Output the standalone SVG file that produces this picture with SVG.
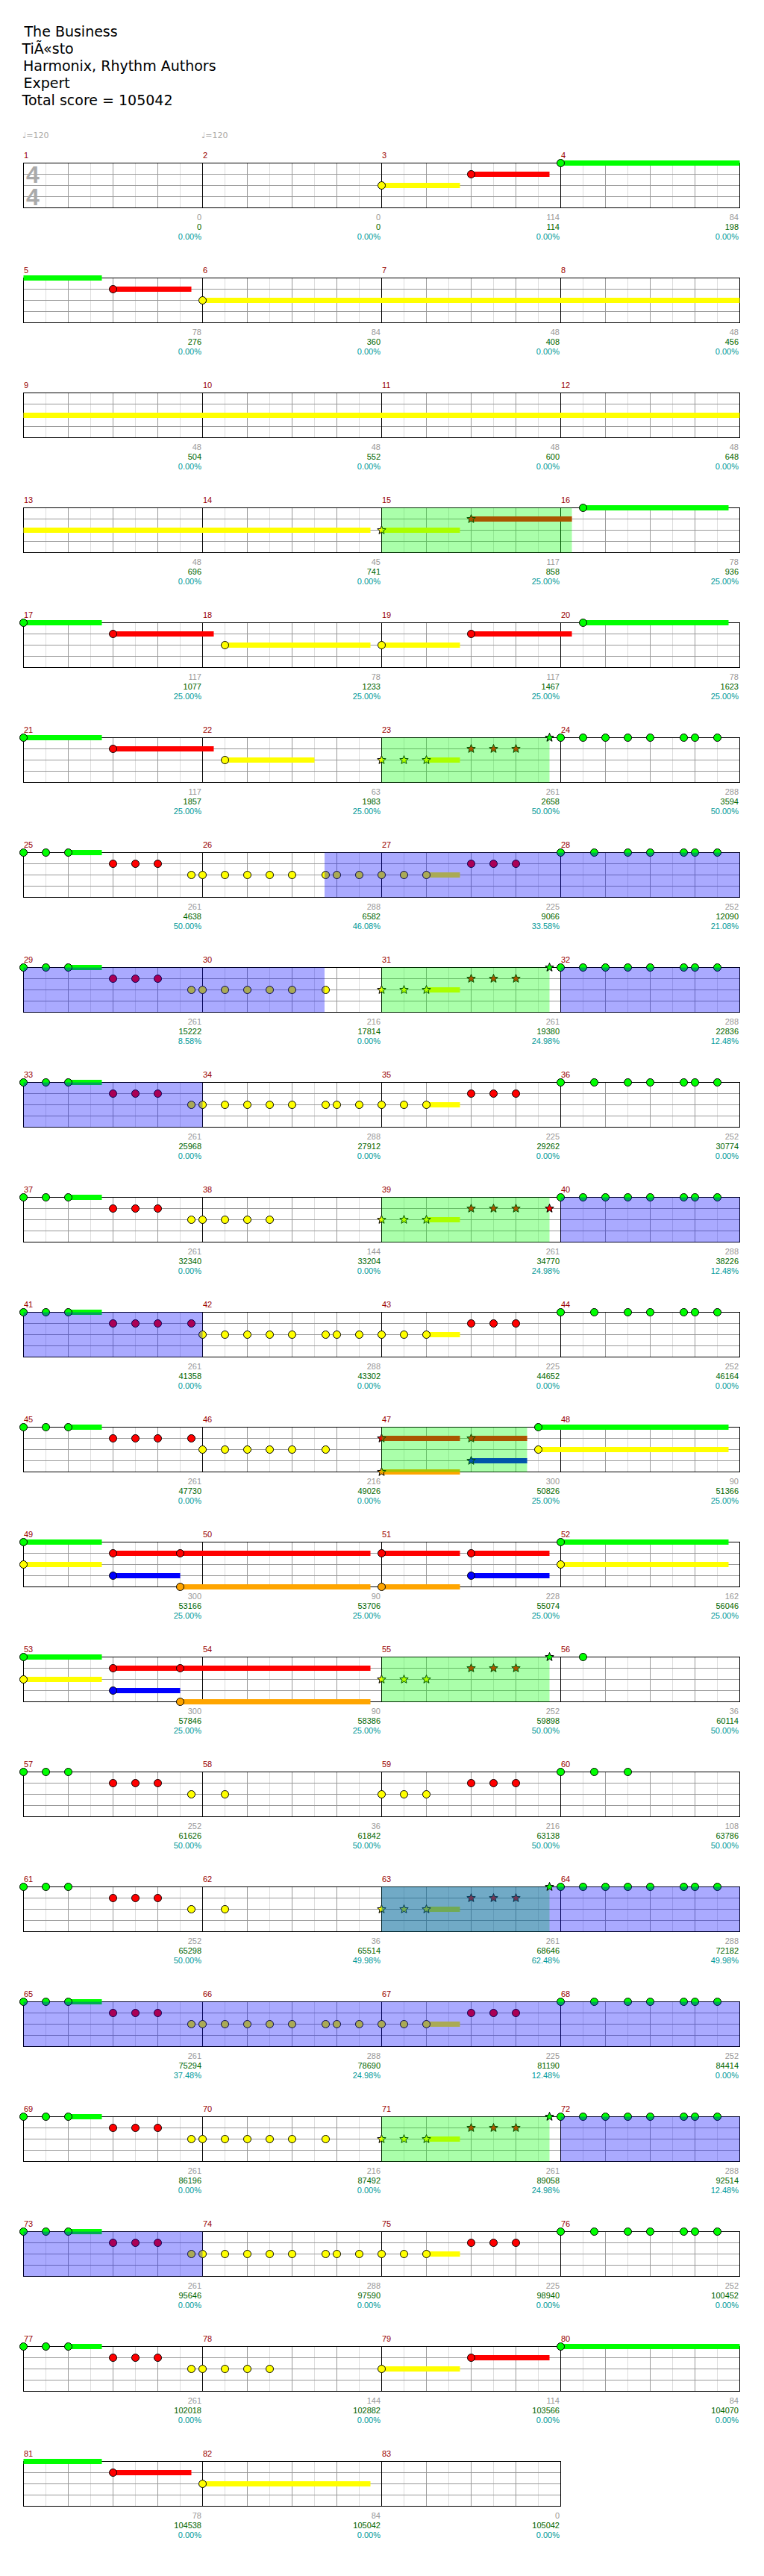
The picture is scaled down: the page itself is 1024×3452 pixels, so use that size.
<svg xmlns="http://www.w3.org/2000/svg" xmlns:xlink="http://www.w3.org/1999/xlink" width="1024" height="3452" viewBox="0 0 1024 3452">
<style>
.hd{font-family:"DejaVu Sans",sans-serif;font-size:19px;fill:#000}
.tp{font-family:"DejaVu Sans",sans-serif;font-size:11px;fill:#aaa}
.ts{font-family:"Liberation Sans",sans-serif;font-size:32px;font-weight:bold;fill:#aaa}
.mn{font-family:"Liberation Sans",sans-serif;font-size:11px;fill:#990000}
.s1,.s2,.s3{font-family:"Liberation Sans",sans-serif;font-size:11px;text-anchor:end}
.s1{fill:#999}.s2{fill:#006600}.s3{fill:#009999}
.lt{stroke:#ddd;stroke-width:1;fill:none}
.bt{stroke:#999;stroke-width:1;fill:none}
.ms{stroke:#000;stroke-width:1;fill:none}
.bar{stroke:none}
circle,.stu{stroke:#000;stroke-width:1}
.g{fill:#00ff00}.r{fill:#ff0000}.y{fill:#ffff00}.b{fill:#0000ff}.o{fill:#ffa500}
.sp{fill:#00ff00;opacity:.333}
.od{fill:#0000ff;opacity:.333}
</style>
<defs>
<g id="grid4">
<path class="lt" d="M61.5,.5V60.5M121.5,.5V60.5M181.5,.5V60.5M241.5,.5V60.5M301.5,.5V60.5M361.5,.5V60.5M421.5,.5V60.5M481.5,.5V60.5M541.5,.5V60.5M601.5,.5V60.5M661.5,.5V60.5M721.5,.5V60.5M781.5,.5V60.5M841.5,.5V60.5M901.5,.5V60.5M961.5,.5V60.5"/>
<path class="bt" d="M91.5,.5V60.5M151.5,.5V60.5M211.5,.5V60.5M331.5,.5V60.5M391.5,.5V60.5M451.5,.5V60.5M571.5,.5V60.5M631.5,.5V60.5M691.5,.5V60.5M811.5,.5V60.5M871.5,.5V60.5M931.5,.5V60.5M31.5,15.5H991.5M31.5,30.5H991.5M31.5,45.5H991.5"/>
<path class="ms" d="M271.5,.5V60.5M511.5,.5V60.5M751.5,.5V60.5"/>
<rect class="ms" x="31.5" y=".5" width="960" height="60"/>
</g>
<g id="grid3">
<path class="lt" d="M61.5,.5V60.5M121.5,.5V60.5M181.5,.5V60.5M241.5,.5V60.5M301.5,.5V60.5M361.5,.5V60.5M421.5,.5V60.5M481.5,.5V60.5M541.5,.5V60.5M601.5,.5V60.5M661.5,.5V60.5M721.5,.5V60.5"/>
<path class="bt" d="M91.5,.5V60.5M151.5,.5V60.5M211.5,.5V60.5M331.5,.5V60.5M391.5,.5V60.5M451.5,.5V60.5M571.5,.5V60.5M631.5,.5V60.5M691.5,.5V60.5M31.5,15.5H751.5M31.5,30.5H751.5M31.5,45.5H751.5"/>
<path class="ms" d="M271.5,.5V60.5M511.5,.5V60.5"/>
<rect class="ms" x="31.5" y=".5" width="720" height="60"/>
</g>
<path id="star" class="stu" d="M0,-6L1.53,-2.1L5.71,-1.85L2.47,.8L3.53,4.85L0,2.6L-3.53,4.85L-2.47,.8L-5.71,-1.85L-1.53,-2.1Z"/>
</defs>
<rect width="1024" height="3452" fill="#fff"/>

<g id="header">
<text class="hd" x="32.5" y="49">The Business</text>
<text class="hd" x="29.5" y="72">TiÃ«sto</text>
<text class="hd" x="31" y="95">Harmonix, Rhythm Authors</text>
<text class="hd" x="31.5" y="118">Expert</text>
<text class="hd" x="29.5" y="141">Total score = 105042</text>
<text class="tp" x="30" y="185">♩=120</text>
<text class="tp" x="270" y="185">♩=120</text>
</g>

<g id="row1" transform="translate(0,218)">
<use xlink:href="#grid4"/>
<text class="ts" x="35" y="27">4</text>
<text class="ts" x="35" y="57">4</text>
<text class="mn" x="32" y="-6">1</text><text class="mn" x="272" y="-6">2</text><text class="mn" x="512" y="-6">3</text><text class="mn" x="752" y="-6">4</text>
<rect class="bar y" x="511.5" y="27" width="105" height="7"/>
<rect class="bar r" x="631.5" y="12" width="105" height="7"/>
<rect class="bar g" x="751.5" y="-3" width="240" height="7"/>
<circle class="y" cx="511.5" cy="30.5" r="5"/><circle class="r" cx="631.5" cy="15.5" r="5"/><circle class="g" cx="751.5" cy=".5" r="5"/>
<text class="s1" x="270" y="77">0</text><text class="s2" x="270" y="90">0</text><text class="s3" x="270" y="103">0.00%</text>
<text class="s1" x="510" y="77">0</text><text class="s2" x="510" y="90">0</text><text class="s3" x="510" y="103">0.00%</text>
<text class="s1" x="750" y="77">114</text><text class="s2" x="750" y="90">114</text><text class="s3" x="750" y="103">0.00%</text>
<text class="s1" x="990" y="77">84</text><text class="s2" x="990" y="90">198</text><text class="s3" x="990" y="103">0.00%</text>
</g>

<g id="row2" transform="translate(0,372)">
<use xlink:href="#grid4"/>
<text class="mn" x="32" y="-6">5</text><text class="mn" x="272" y="-6">6</text><text class="mn" x="512" y="-6">7</text><text class="mn" x="752" y="-6">8</text>
<rect class="bar g" x="31.5" y="-3" width="105" height="7"/>
<rect class="bar r" x="151.5" y="12" width="105" height="7"/>
<rect class="bar y" x="271.5" y="27" width="720" height="7"/>
<circle class="r" cx="151.5" cy="15.5" r="5"/><circle class="y" cx="271.5" cy="30.5" r="5"/>
<text class="s1" x="270" y="77">78</text><text class="s2" x="270" y="90">276</text><text class="s3" x="270" y="103">0.00%</text>
<text class="s1" x="510" y="77">84</text><text class="s2" x="510" y="90">360</text><text class="s3" x="510" y="103">0.00%</text>
<text class="s1" x="750" y="77">48</text><text class="s2" x="750" y="90">408</text><text class="s3" x="750" y="103">0.00%</text>
<text class="s1" x="990" y="77">48</text><text class="s2" x="990" y="90">456</text><text class="s3" x="990" y="103">0.00%</text>
</g>

<g id="row3" transform="translate(0,526)">
<use xlink:href="#grid4"/>
<text class="mn" x="32" y="-6">9</text><text class="mn" x="272" y="-6">10</text><text class="mn" x="512" y="-6">11</text><text class="mn" x="752" y="-6">12</text>
<rect class="bar y" x="31.5" y="27" width="960" height="7"/>
<text class="s1" x="270" y="77">48</text><text class="s2" x="270" y="90">504</text><text class="s3" x="270" y="103">0.00%</text>
<text class="s1" x="510" y="77">48</text><text class="s2" x="510" y="90">552</text><text class="s3" x="510" y="103">0.00%</text>
<text class="s1" x="750" y="77">48</text><text class="s2" x="750" y="90">600</text><text class="s3" x="750" y="103">0.00%</text>
<text class="s1" x="990" y="77">48</text><text class="s2" x="990" y="90">648</text><text class="s3" x="990" y="103">0.00%</text>
</g>

<g id="row4" transform="translate(0,680)">
<use xlink:href="#grid4"/>
<text class="mn" x="32" y="-6">13</text><text class="mn" x="272" y="-6">14</text><text class="mn" x="512" y="-6">15</text><text class="mn" x="752" y="-6">16</text>
<rect class="bar y" x="31.5" y="27" width="465" height="7"/>
<rect class="bar y" x="511.5" y="27" width="105" height="7"/>
<rect class="bar r" x="631.5" y="12" width="135" height="7"/>
<rect class="bar g" x="781.5" y="-3" width="195" height="7"/>
<use xlink:href="#star" class="y" x="511.5" y="30.5"/><use xlink:href="#star" class="r" x="631.5" y="15.5"/>
<circle class="g" cx="781.5" cy=".5" r="5"/>
<rect class="sp" x="511.5" y=".5" width="255" height="60"/>
<text class="s1" x="270" y="77">48</text><text class="s2" x="270" y="90">696</text><text class="s3" x="270" y="103">0.00%</text>
<text class="s1" x="510" y="77">45</text><text class="s2" x="510" y="90">741</text><text class="s3" x="510" y="103">0.00%</text>
<text class="s1" x="750" y="77">117</text><text class="s2" x="750" y="90">858</text><text class="s3" x="750" y="103">25.00%</text>
<text class="s1" x="990" y="77">78</text><text class="s2" x="990" y="90">936</text><text class="s3" x="990" y="103">25.00%</text>
</g>

<g id="row5" transform="translate(0,834)">
<use xlink:href="#grid4"/>
<text class="mn" x="32" y="-6">17</text><text class="mn" x="272" y="-6">18</text><text class="mn" x="512" y="-6">19</text><text class="mn" x="752" y="-6">20</text>
<rect class="bar g" x="31.5" y="-3" width="105" height="7"/>
<rect class="bar r" x="151.5" y="12" width="135" height="7"/>
<rect class="bar y" x="301.5" y="27" width="195" height="7"/>
<rect class="bar y" x="511.5" y="27" width="105" height="7"/>
<rect class="bar r" x="631.5" y="12" width="135" height="7"/>
<rect class="bar g" x="781.5" y="-3" width="195" height="7"/>
<circle class="g" cx="31.5" cy=".5" r="5"/><circle class="r" cx="151.5" cy="15.5" r="5"/><circle class="y" cx="301.5" cy="30.5" r="5"/><circle class="y" cx="511.5" cy="30.5" r="5"/><circle class="r" cx="631.5" cy="15.5" r="5"/><circle class="g" cx="781.5" cy=".5" r="5"/>
<text class="s1" x="270" y="77">117</text><text class="s2" x="270" y="90">1077</text><text class="s3" x="270" y="103">25.00%</text>
<text class="s1" x="510" y="77">78</text><text class="s2" x="510" y="90">1233</text><text class="s3" x="510" y="103">25.00%</text>
<text class="s1" x="750" y="77">117</text><text class="s2" x="750" y="90">1467</text><text class="s3" x="750" y="103">25.00%</text>
<text class="s1" x="990" y="77">78</text><text class="s2" x="990" y="90">1623</text><text class="s3" x="990" y="103">25.00%</text>
</g>

<g id="row6" transform="translate(0,988)">
<use xlink:href="#grid4"/>
<text class="mn" x="32" y="-6">21</text><text class="mn" x="272" y="-6">22</text><text class="mn" x="512" y="-6">23</text><text class="mn" x="752" y="-6">24</text>
<rect class="bar g" x="31.5" y="-3" width="105" height="7"/>
<rect class="bar r" x="151.5" y="12" width="135" height="7"/>
<rect class="bar y" x="301.5" y="27" width="120" height="7"/>
<rect class="bar y" x="571.5" y="27" width="45" height="7"/>
<circle class="g" cx="31.5" cy=".5" r="5"/><circle class="r" cx="151.5" cy="15.5" r="5"/><circle class="y" cx="301.5" cy="30.5" r="5"/>
<use xlink:href="#star" class="y" x="511.5" y="30.5"/><use xlink:href="#star" class="y" x="541.5" y="30.5"/><use xlink:href="#star" class="y" x="571.5" y="30.5"/>
<use xlink:href="#star" class="r" x="631.5" y="15.5"/><use xlink:href="#star" class="r" x="661.5" y="15.5"/><use xlink:href="#star" class="r" x="691.5" y="15.5"/>
<rect class="sp" x="511.5" y=".5" width="225" height="60"/>
<use xlink:href="#star" class="g" x="736.5" y=".5"/>
<circle class="g" cx="751.5" cy=".5" r="5"/><circle class="g" cx="781.5" cy=".5" r="5"/><circle class="g" cx="811.5" cy=".5" r="5"/><circle class="g" cx="841.5" cy=".5" r="5"/><circle class="g" cx="871.5" cy=".5" r="5"/><circle class="g" cx="916.5" cy=".5" r="5"/><circle class="g" cx="931.5" cy=".5" r="5"/><circle class="g" cx="961.5" cy=".5" r="5"/>
<text class="s1" x="270" y="77">117</text><text class="s2" x="270" y="90">1857</text><text class="s3" x="270" y="103">25.00%</text>
<text class="s1" x="510" y="77">63</text><text class="s2" x="510" y="90">1983</text><text class="s3" x="510" y="103">25.00%</text>
<text class="s1" x="750" y="77">261</text><text class="s2" x="750" y="90">2658</text><text class="s3" x="750" y="103">50.00%</text>
<text class="s1" x="990" y="77">288</text><text class="s2" x="990" y="90">3594</text><text class="s3" x="990" y="103">50.00%</text>
</g>

<g id="row7" transform="translate(0,1142)">
<use xlink:href="#grid4"/>
<text class="mn" x="32" y="-6">25</text><text class="mn" x="272" y="-6">26</text><text class="mn" x="512" y="-6">27</text><text class="mn" x="752" y="-6">28</text>
<rect class="bar g" x="91.5" y="-3" width="45" height="7"/>
<rect class="bar y" x="571.5" y="27" width="45" height="7"/>
<circle class="g" cx="31.5" cy=".5" r="5"/><circle class="g" cx="61.5" cy=".5" r="5"/><circle class="g" cx="91.5" cy=".5" r="5"/>
<circle class="r" cx="151.5" cy="15.5" r="5"/><circle class="r" cx="181.5" cy="15.5" r="5"/><circle class="r" cx="211.5" cy="15.5" r="5"/>
<circle class="y" cx="256.5" cy="30.5" r="5"/><circle class="y" cx="271.5" cy="30.5" r="5"/><circle class="y" cx="301.5" cy="30.5" r="5"/><circle class="y" cx="331.5" cy="30.5" r="5"/><circle class="y" cx="361.5" cy="30.5" r="5"/><circle class="y" cx="391.5" cy="30.5" r="5"/><circle class="y" cx="436.5" cy="30.5" r="5"/><circle class="y" cx="451.5" cy="30.5" r="5"/><circle class="y" cx="481.5" cy="30.5" r="5"/><circle class="y" cx="511.5" cy="30.5" r="5"/><circle class="y" cx="541.5" cy="30.5" r="5"/><circle class="y" cx="571.5" cy="30.5" r="5"/>
<circle class="r" cx="631.5" cy="15.5" r="5"/><circle class="r" cx="661.5" cy="15.5" r="5"/><circle class="r" cx="691.5" cy="15.5" r="5"/>
<circle class="g" cx="751.5" cy=".5" r="5"/><circle class="g" cx="796.5" cy=".5" r="5"/><circle class="g" cx="841.5" cy=".5" r="5"/><circle class="g" cx="871.5" cy=".5" r="5"/><circle class="g" cx="916.5" cy=".5" r="5"/><circle class="g" cx="931.5" cy=".5" r="5"/><circle class="g" cx="961.5" cy=".5" r="5"/>
<rect class="od" x="435" y=".5" width="556.5" height="60"/>
<text class="s1" x="270" y="77">261</text><text class="s2" x="270" y="90">4638</text><text class="s3" x="270" y="103">50.00%</text>
<text class="s1" x="510" y="77">288</text><text class="s2" x="510" y="90">6582</text><text class="s3" x="510" y="103">46.08%</text>
<text class="s1" x="750" y="77">225</text><text class="s2" x="750" y="90">9066</text><text class="s3" x="750" y="103">33.58%</text>
<text class="s1" x="990" y="77">252</text><text class="s2" x="990" y="90">12090</text><text class="s3" x="990" y="103">21.08%</text>
</g>

<g id="row8" transform="translate(0,1296)">
<use xlink:href="#grid4"/>
<text class="mn" x="32" y="-6">29</text><text class="mn" x="272" y="-6">30</text><text class="mn" x="512" y="-6">31</text><text class="mn" x="752" y="-6">32</text>
<rect class="bar g" x="91.5" y="-3" width="45" height="7"/>
<rect class="bar y" x="571.5" y="27" width="45" height="7"/>
<circle class="g" cx="31.5" cy=".5" r="5"/><circle class="g" cx="61.5" cy=".5" r="5"/><circle class="g" cx="91.5" cy=".5" r="5"/>
<circle class="r" cx="151.5" cy="15.5" r="5"/><circle class="r" cx="181.5" cy="15.5" r="5"/><circle class="r" cx="211.5" cy="15.5" r="5"/>
<circle class="y" cx="256.5" cy="30.5" r="5"/><circle class="y" cx="271.5" cy="30.5" r="5"/><circle class="y" cx="301.5" cy="30.5" r="5"/><circle class="y" cx="331.5" cy="30.5" r="5"/><circle class="y" cx="361.5" cy="30.5" r="5"/><circle class="y" cx="391.5" cy="30.5" r="5"/><circle class="y" cx="436.5" cy="30.5" r="5"/>
<use xlink:href="#star" class="y" x="511.5" y="30.5"/><use xlink:href="#star" class="y" x="541.5" y="30.5"/><use xlink:href="#star" class="y" x="571.5" y="30.5"/>
<use xlink:href="#star" class="r" x="631.5" y="15.5"/><use xlink:href="#star" class="r" x="661.5" y="15.5"/><use xlink:href="#star" class="r" x="691.5" y="15.5"/>
<circle class="g" cx="751.5" cy=".5" r="5"/><circle class="g" cx="781.5" cy=".5" r="5"/><circle class="g" cx="811.5" cy=".5" r="5"/><circle class="g" cx="841.5" cy=".5" r="5"/><circle class="g" cx="871.5" cy=".5" r="5"/><circle class="g" cx="916.5" cy=".5" r="5"/><circle class="g" cx="931.5" cy=".5" r="5"/><circle class="g" cx="961.5" cy=".5" r="5"/>
<rect class="od" x="31.5" y=".5" width="403.5" height="60"/>
<rect class="sp" x="511.5" y=".5" width="225" height="60"/>
<rect class="od" x="751.5" y=".5" width="240" height="60"/>
<use xlink:href="#star" class="g" x="736.5" y=".5"/>
<text class="s1" x="270" y="77">261</text><text class="s2" x="270" y="90">15222</text><text class="s3" x="270" y="103">8.58%</text>
<text class="s1" x="510" y="77">216</text><text class="s2" x="510" y="90">17814</text><text class="s3" x="510" y="103">0.00%</text>
<text class="s1" x="750" y="77">261</text><text class="s2" x="750" y="90">19380</text><text class="s3" x="750" y="103">24.98%</text>
<text class="s1" x="990" y="77">288</text><text class="s2" x="990" y="90">22836</text><text class="s3" x="990" y="103">12.48%</text>
</g>

<g id="row9" transform="translate(0,1450)">
<use xlink:href="#grid4"/>
<text class="mn" x="32" y="-6">33</text><text class="mn" x="272" y="-6">34</text><text class="mn" x="512" y="-6">35</text><text class="mn" x="752" y="-6">36</text>
<rect class="bar g" x="91.5" y="-3" width="45" height="7"/>
<rect class="bar y" x="571.5" y="27" width="45" height="7"/>
<circle class="g" cx="31.5" cy=".5" r="5"/><circle class="g" cx="61.5" cy=".5" r="5"/><circle class="g" cx="91.5" cy=".5" r="5"/>
<circle class="r" cx="151.5" cy="15.5" r="5"/><circle class="r" cx="181.5" cy="15.5" r="5"/><circle class="r" cx="211.5" cy="15.5" r="5"/>
<circle class="y" cx="256.5" cy="30.5" r="5"/><circle class="y" cx="271.5" cy="30.5" r="5"/><circle class="y" cx="301.5" cy="30.5" r="5"/><circle class="y" cx="331.5" cy="30.5" r="5"/><circle class="y" cx="361.5" cy="30.5" r="5"/><circle class="y" cx="391.5" cy="30.5" r="5"/><circle class="y" cx="436.5" cy="30.5" r="5"/><circle class="y" cx="451.5" cy="30.5" r="5"/><circle class="y" cx="481.5" cy="30.5" r="5"/><circle class="y" cx="511.5" cy="30.5" r="5"/><circle class="y" cx="541.5" cy="30.5" r="5"/><circle class="y" cx="571.5" cy="30.5" r="5"/>
<circle class="r" cx="631.5" cy="15.5" r="5"/><circle class="r" cx="661.5" cy="15.5" r="5"/><circle class="r" cx="691.5" cy="15.5" r="5"/>
<circle class="g" cx="751.5" cy=".5" r="5"/><circle class="g" cx="796.5" cy=".5" r="5"/><circle class="g" cx="841.5" cy=".5" r="5"/><circle class="g" cx="871.5" cy=".5" r="5"/><circle class="g" cx="916.5" cy=".5" r="5"/><circle class="g" cx="931.5" cy=".5" r="5"/><circle class="g" cx="961.5" cy=".5" r="5"/>
<rect class="od" x="31.5" y=".5" width="240" height="60"/>
<text class="s1" x="270" y="77">261</text><text class="s2" x="270" y="90">25968</text><text class="s3" x="270" y="103">0.00%</text>
<text class="s1" x="510" y="77">288</text><text class="s2" x="510" y="90">27912</text><text class="s3" x="510" y="103">0.00%</text>
<text class="s1" x="750" y="77">225</text><text class="s2" x="750" y="90">29262</text><text class="s3" x="750" y="103">0.00%</text>
<text class="s1" x="990" y="77">252</text><text class="s2" x="990" y="90">30774</text><text class="s3" x="990" y="103">0.00%</text>
</g>

<g id="row10" transform="translate(0,1604)">
<use xlink:href="#grid4"/>
<text class="mn" x="32" y="-6">37</text><text class="mn" x="272" y="-6">38</text><text class="mn" x="512" y="-6">39</text><text class="mn" x="752" y="-6">40</text>
<rect class="bar g" x="91.5" y="-3" width="45" height="7"/>
<rect class="bar y" x="571.5" y="27" width="45" height="7"/>
<circle class="g" cx="31.5" cy=".5" r="5"/><circle class="g" cx="61.5" cy=".5" r="5"/><circle class="g" cx="91.5" cy=".5" r="5"/>
<circle class="r" cx="151.5" cy="15.5" r="5"/><circle class="r" cx="181.5" cy="15.5" r="5"/><circle class="r" cx="211.5" cy="15.5" r="5"/>
<circle class="y" cx="256.5" cy="30.5" r="5"/><circle class="y" cx="271.5" cy="30.5" r="5"/><circle class="y" cx="301.5" cy="30.5" r="5"/><circle class="y" cx="331.5" cy="30.5" r="5"/><circle class="y" cx="361.5" cy="30.5" r="5"/>
<use xlink:href="#star" class="y" x="511.5" y="30.5"/><use xlink:href="#star" class="y" x="541.5" y="30.5"/><use xlink:href="#star" class="y" x="571.5" y="30.5"/>
<use xlink:href="#star" class="r" x="631.5" y="15.5"/><use xlink:href="#star" class="r" x="661.5" y="15.5"/><use xlink:href="#star" class="r" x="691.5" y="15.5"/>
<circle class="g" cx="751.5" cy=".5" r="5"/><circle class="g" cx="781.5" cy=".5" r="5"/><circle class="g" cx="811.5" cy=".5" r="5"/><circle class="g" cx="841.5" cy=".5" r="5"/><circle class="g" cx="871.5" cy=".5" r="5"/><circle class="g" cx="916.5" cy=".5" r="5"/><circle class="g" cx="931.5" cy=".5" r="5"/><circle class="g" cx="961.5" cy=".5" r="5"/>
<rect class="sp" x="511.5" y=".5" width="225" height="60"/>
<rect class="od" x="751.5" y=".5" width="240" height="60"/>
<use xlink:href="#star" class="r" x="736.5" y="15.5"/>
<text class="s1" x="270" y="77">261</text><text class="s2" x="270" y="90">32340</text><text class="s3" x="270" y="103">0.00%</text>
<text class="s1" x="510" y="77">144</text><text class="s2" x="510" y="90">33204</text><text class="s3" x="510" y="103">0.00%</text>
<text class="s1" x="750" y="77">261</text><text class="s2" x="750" y="90">34770</text><text class="s3" x="750" y="103">24.98%</text>
<text class="s1" x="990" y="77">288</text><text class="s2" x="990" y="90">38226</text><text class="s3" x="990" y="103">12.48%</text>
</g>

<g id="row11" transform="translate(0,1758)">
<use xlink:href="#grid4"/>
<text class="mn" x="32" y="-6">41</text><text class="mn" x="272" y="-6">42</text><text class="mn" x="512" y="-6">43</text><text class="mn" x="752" y="-6">44</text>
<rect class="bar g" x="91.5" y="-3" width="45" height="7"/>
<rect class="bar y" x="571.5" y="27" width="45" height="7"/>
<circle class="g" cx="31.5" cy=".5" r="5"/><circle class="g" cx="61.5" cy=".5" r="5"/><circle class="g" cx="91.5" cy=".5" r="5"/>
<circle class="r" cx="151.5" cy="15.5" r="5"/><circle class="r" cx="181.5" cy="15.5" r="5"/><circle class="r" cx="211.5" cy="15.5" r="5"/><circle class="r" cx="256.5" cy="15.5" r="5"/>
<circle class="y" cx="271.5" cy="30.5" r="5"/><circle class="y" cx="301.5" cy="30.5" r="5"/><circle class="y" cx="331.5" cy="30.5" r="5"/><circle class="y" cx="361.5" cy="30.5" r="5"/><circle class="y" cx="391.5" cy="30.5" r="5"/><circle class="y" cx="436.5" cy="30.5" r="5"/><circle class="y" cx="451.5" cy="30.5" r="5"/><circle class="y" cx="481.5" cy="30.5" r="5"/><circle class="y" cx="511.5" cy="30.5" r="5"/><circle class="y" cx="541.5" cy="30.5" r="5"/><circle class="y" cx="571.5" cy="30.5" r="5"/>
<circle class="r" cx="631.5" cy="15.5" r="5"/><circle class="r" cx="661.5" cy="15.5" r="5"/><circle class="r" cx="691.5" cy="15.5" r="5"/>
<circle class="g" cx="751.5" cy=".5" r="5"/><circle class="g" cx="796.5" cy=".5" r="5"/><circle class="g" cx="841.5" cy=".5" r="5"/><circle class="g" cx="871.5" cy=".5" r="5"/><circle class="g" cx="916.5" cy=".5" r="5"/><circle class="g" cx="931.5" cy=".5" r="5"/><circle class="g" cx="961.5" cy=".5" r="5"/>
<rect class="od" x="31.5" y=".5" width="240" height="60"/>
<text class="s1" x="270" y="77">261</text><text class="s2" x="270" y="90">41358</text><text class="s3" x="270" y="103">0.00%</text>
<text class="s1" x="510" y="77">288</text><text class="s2" x="510" y="90">43302</text><text class="s3" x="510" y="103">0.00%</text>
<text class="s1" x="750" y="77">225</text><text class="s2" x="750" y="90">44652</text><text class="s3" x="750" y="103">0.00%</text>
<text class="s1" x="990" y="77">252</text><text class="s2" x="990" y="90">46164</text><text class="s3" x="990" y="103">0.00%</text>
</g>

<g id="row12" transform="translate(0,1912)">
<use xlink:href="#grid4"/>
<text class="mn" x="32" y="-6">45</text><text class="mn" x="272" y="-6">46</text><text class="mn" x="512" y="-6">47</text><text class="mn" x="752" y="-6">48</text>
<rect class="bar g" x="91.5" y="-3" width="45" height="7"/>
<rect class="bar r" x="511.5" y="12" width="105" height="7"/>
<rect class="bar o" x="511.5" y="57" width="105" height="7"/>
<rect class="bar r" x="631.5" y="12" width="75" height="7"/>
<rect class="bar b" x="631.5" y="42" width="75" height="7"/>
<rect class="bar g" x="721.5" y="-3" width="255" height="7"/>
<rect class="bar y" x="721.5" y="27" width="255" height="7"/>
<circle class="g" cx="31.5" cy=".5" r="5"/><circle class="g" cx="61.5" cy=".5" r="5"/><circle class="g" cx="91.5" cy=".5" r="5"/>
<circle class="r" cx="151.5" cy="15.5" r="5"/><circle class="r" cx="181.5" cy="15.5" r="5"/><circle class="r" cx="211.5" cy="15.5" r="5"/><circle class="r" cx="256.5" cy="15.5" r="5"/>
<circle class="y" cx="271.5" cy="30.5" r="5"/><circle class="y" cx="301.5" cy="30.5" r="5"/><circle class="y" cx="331.5" cy="30.5" r="5"/><circle class="y" cx="361.5" cy="30.5" r="5"/><circle class="y" cx="391.5" cy="30.5" r="5"/><circle class="y" cx="436.5" cy="30.5" r="5"/>
<use xlink:href="#star" class="r" x="511.5" y="15.5"/><use xlink:href="#star" class="o" x="511.5" y="60.5"/>
<use xlink:href="#star" class="r" x="631.5" y="15.5"/><use xlink:href="#star" class="b" x="631.5" y="45.5"/>
<circle class="g" cx="721.5" cy=".5" r="5"/><circle class="y" cx="721.5" cy="30.5" r="5"/>
<rect class="sp" x="511.5" y=".5" width="195" height="60"/>
<text class="s1" x="270" y="77">261</text><text class="s2" x="270" y="90">47730</text><text class="s3" x="270" y="103">0.00%</text>
<text class="s1" x="510" y="77">216</text><text class="s2" x="510" y="90">49026</text><text class="s3" x="510" y="103">0.00%</text>
<text class="s1" x="750" y="77">300</text><text class="s2" x="750" y="90">50826</text><text class="s3" x="750" y="103">25.00%</text>
<text class="s1" x="990" y="77">90</text><text class="s2" x="990" y="90">51366</text><text class="s3" x="990" y="103">25.00%</text>
</g>

<g id="row13" transform="translate(0,2066)">
<use xlink:href="#grid4"/>
<text class="mn" x="32" y="-6">49</text><text class="mn" x="272" y="-6">50</text><text class="mn" x="512" y="-6">51</text><text class="mn" x="752" y="-6">52</text>
<rect class="bar g" x="31.5" y="-3" width="105" height="7"/>
<rect class="bar y" x="31.5" y="27" width="105" height="7"/>
<rect class="bar r" x="151.5" y="12" width="90" height="7"/>
<rect class="bar b" x="151.5" y="42" width="90" height="7"/>
<rect class="bar r" x="241.5" y="12" width="255" height="7"/>
<rect class="bar o" x="241.5" y="57" width="255" height="7"/>
<rect class="bar r" x="511.5" y="12" width="105" height="7"/>
<rect class="bar o" x="511.5" y="57" width="105" height="7"/>
<rect class="bar r" x="631.5" y="12" width="105" height="7"/>
<rect class="bar b" x="631.5" y="42" width="105" height="7"/>
<rect class="bar g" x="751.5" y="-3" width="225" height="7"/>
<rect class="bar y" x="751.5" y="27" width="225" height="7"/>
<circle class="g" cx="31.5" cy=".5" r="5"/><circle class="y" cx="31.5" cy="30.5" r="5"/>
<circle class="r" cx="151.5" cy="15.5" r="5"/><circle class="b" cx="151.5" cy="45.5" r="5"/>
<circle class="r" cx="241.5" cy="15.5" r="5"/><circle class="o" cx="241.5" cy="60.5" r="5"/>
<circle class="r" cx="511.5" cy="15.5" r="5"/><circle class="o" cx="511.5" cy="60.5" r="5"/>
<circle class="r" cx="631.5" cy="15.5" r="5"/><circle class="b" cx="631.5" cy="45.5" r="5"/>
<circle class="g" cx="751.5" cy=".5" r="5"/><circle class="y" cx="751.5" cy="30.5" r="5"/>
<text class="s1" x="270" y="77">300</text><text class="s2" x="270" y="90">53166</text><text class="s3" x="270" y="103">25.00%</text>
<text class="s1" x="510" y="77">90</text><text class="s2" x="510" y="90">53706</text><text class="s3" x="510" y="103">25.00%</text>
<text class="s1" x="750" y="77">228</text><text class="s2" x="750" y="90">55074</text><text class="s3" x="750" y="103">25.00%</text>
<text class="s1" x="990" y="77">162</text><text class="s2" x="990" y="90">56046</text><text class="s3" x="990" y="103">25.00%</text>
</g>

<g id="row14" transform="translate(0,2220)">
<use xlink:href="#grid4"/>
<text class="mn" x="32" y="-6">53</text><text class="mn" x="272" y="-6">54</text><text class="mn" x="512" y="-6">55</text><text class="mn" x="752" y="-6">56</text>
<rect class="bar g" x="31.5" y="-3" width="105" height="7"/>
<rect class="bar y" x="31.5" y="27" width="105" height="7"/>
<rect class="bar r" x="151.5" y="12" width="90" height="7"/>
<rect class="bar b" x="151.5" y="42" width="90" height="7"/>
<rect class="bar r" x="241.5" y="12" width="255" height="7"/>
<rect class="bar o" x="241.5" y="57" width="255" height="7"/>
<circle class="g" cx="31.5" cy=".5" r="5"/><circle class="y" cx="31.5" cy="30.5" r="5"/>
<circle class="r" cx="151.5" cy="15.5" r="5"/><circle class="b" cx="151.5" cy="45.5" r="5"/>
<circle class="r" cx="241.5" cy="15.5" r="5"/><circle class="o" cx="241.5" cy="60.5" r="5"/>
<use xlink:href="#star" class="y" x="511.5" y="30.5"/><use xlink:href="#star" class="y" x="541.5" y="30.5"/><use xlink:href="#star" class="y" x="571.5" y="30.5"/>
<use xlink:href="#star" class="r" x="631.5" y="15.5"/><use xlink:href="#star" class="r" x="661.5" y="15.5"/><use xlink:href="#star" class="r" x="691.5" y="15.5"/>
<rect class="sp" x="511.5" y=".5" width="225" height="60"/>
<use xlink:href="#star" class="g" x="736.5" y=".5"/>
<circle class="g" cx="781.5" cy=".5" r="5"/>
<text class="s1" x="270" y="77">300</text><text class="s2" x="270" y="90">57846</text><text class="s3" x="270" y="103">25.00%</text>
<text class="s1" x="510" y="77">90</text><text class="s2" x="510" y="90">58386</text><text class="s3" x="510" y="103">25.00%</text>
<text class="s1" x="750" y="77">252</text><text class="s2" x="750" y="90">59898</text><text class="s3" x="750" y="103">50.00%</text>
<text class="s1" x="990" y="77">36</text><text class="s2" x="990" y="90">60114</text><text class="s3" x="990" y="103">50.00%</text>
</g>

<g id="row15" transform="translate(0,2374)">
<use xlink:href="#grid4"/>
<text class="mn" x="32" y="-6">57</text><text class="mn" x="272" y="-6">58</text><text class="mn" x="512" y="-6">59</text><text class="mn" x="752" y="-6">60</text>
<circle class="g" cx="31.5" cy=".5" r="5"/><circle class="g" cx="61.5" cy=".5" r="5"/><circle class="g" cx="91.5" cy=".5" r="5"/>
<circle class="r" cx="151.5" cy="15.5" r="5"/><circle class="r" cx="181.5" cy="15.5" r="5"/><circle class="r" cx="211.5" cy="15.5" r="5"/>
<circle class="y" cx="256.5" cy="30.5" r="5"/><circle class="y" cx="301.5" cy="30.5" r="5"/>
<circle class="y" cx="511.5" cy="30.5" r="5"/><circle class="y" cx="541.5" cy="30.5" r="5"/><circle class="y" cx="571.5" cy="30.5" r="5"/>
<circle class="r" cx="631.5" cy="15.5" r="5"/><circle class="r" cx="661.5" cy="15.5" r="5"/><circle class="r" cx="691.5" cy="15.5" r="5"/>
<circle class="g" cx="751.5" cy=".5" r="5"/><circle class="g" cx="796.5" cy=".5" r="5"/><circle class="g" cx="841.5" cy=".5" r="5"/>
<text class="s1" x="270" y="77">252</text><text class="s2" x="270" y="90">61626</text><text class="s3" x="270" y="103">50.00%</text>
<text class="s1" x="510" y="77">36</text><text class="s2" x="510" y="90">61842</text><text class="s3" x="510" y="103">50.00%</text>
<text class="s1" x="750" y="77">216</text><text class="s2" x="750" y="90">63138</text><text class="s3" x="750" y="103">50.00%</text>
<text class="s1" x="990" y="77">108</text><text class="s2" x="990" y="90">63786</text><text class="s3" x="990" y="103">50.00%</text>
</g>

<g id="row16" transform="translate(0,2528)">
<use xlink:href="#grid4"/>
<text class="mn" x="32" y="-6">61</text><text class="mn" x="272" y="-6">62</text><text class="mn" x="512" y="-6">63</text><text class="mn" x="752" y="-6">64</text>
<rect class="bar y" x="571.5" y="27" width="45" height="7"/>
<circle class="g" cx="31.5" cy=".5" r="5"/><circle class="g" cx="61.5" cy=".5" r="5"/><circle class="g" cx="91.5" cy=".5" r="5"/>
<circle class="r" cx="151.5" cy="15.5" r="5"/><circle class="r" cx="181.5" cy="15.5" r="5"/><circle class="r" cx="211.5" cy="15.5" r="5"/>
<circle class="y" cx="256.5" cy="30.5" r="5"/><circle class="y" cx="301.5" cy="30.5" r="5"/>
<use xlink:href="#star" class="y" x="511.5" y="30.5"/><use xlink:href="#star" class="y" x="541.5" y="30.5"/><use xlink:href="#star" class="y" x="571.5" y="30.5"/>
<use xlink:href="#star" class="r" x="631.5" y="15.5"/><use xlink:href="#star" class="r" x="661.5" y="15.5"/><use xlink:href="#star" class="r" x="691.5" y="15.5"/>
<circle class="g" cx="751.5" cy=".5" r="5"/><circle class="g" cx="781.5" cy=".5" r="5"/><circle class="g" cx="811.5" cy=".5" r="5"/><circle class="g" cx="841.5" cy=".5" r="5"/><circle class="g" cx="871.5" cy=".5" r="5"/><circle class="g" cx="916.5" cy=".5" r="5"/><circle class="g" cx="931.5" cy=".5" r="5"/><circle class="g" cx="961.5" cy=".5" r="5"/>
<rect class="sp" x="511.5" y=".5" width="225" height="60"/>
<rect class="od" x="511.5" y=".5" width="480" height="60"/>
<use xlink:href="#star" class="g" x="736.5" y=".5"/>
<text class="s1" x="270" y="77">252</text><text class="s2" x="270" y="90">65298</text><text class="s3" x="270" y="103">50.00%</text>
<text class="s1" x="510" y="77">36</text><text class="s2" x="510" y="90">65514</text><text class="s3" x="510" y="103">49.98%</text>
<text class="s1" x="750" y="77">261</text><text class="s2" x="750" y="90">68646</text><text class="s3" x="750" y="103">62.48%</text>
<text class="s1" x="990" y="77">288</text><text class="s2" x="990" y="90">72182</text><text class="s3" x="990" y="103">49.98%</text>
</g>

<g id="row17" transform="translate(0,2682)">
<use xlink:href="#grid4"/>
<text class="mn" x="32" y="-6">65</text><text class="mn" x="272" y="-6">66</text><text class="mn" x="512" y="-6">67</text><text class="mn" x="752" y="-6">68</text>
<rect class="bar g" x="91.5" y="-3" width="45" height="7"/>
<rect class="bar y" x="571.5" y="27" width="45" height="7"/>
<circle class="g" cx="31.5" cy=".5" r="5"/><circle class="g" cx="61.5" cy=".5" r="5"/><circle class="g" cx="91.5" cy=".5" r="5"/>
<circle class="r" cx="151.5" cy="15.5" r="5"/><circle class="r" cx="181.5" cy="15.5" r="5"/><circle class="r" cx="211.5" cy="15.5" r="5"/>
<circle class="y" cx="256.5" cy="30.5" r="5"/><circle class="y" cx="271.5" cy="30.5" r="5"/><circle class="y" cx="301.5" cy="30.5" r="5"/><circle class="y" cx="331.5" cy="30.5" r="5"/><circle class="y" cx="361.5" cy="30.5" r="5"/><circle class="y" cx="391.5" cy="30.5" r="5"/><circle class="y" cx="436.5" cy="30.5" r="5"/><circle class="y" cx="451.5" cy="30.5" r="5"/><circle class="y" cx="481.5" cy="30.5" r="5"/><circle class="y" cx="511.5" cy="30.5" r="5"/><circle class="y" cx="541.5" cy="30.5" r="5"/><circle class="y" cx="571.5" cy="30.5" r="5"/>
<circle class="r" cx="631.5" cy="15.5" r="5"/><circle class="r" cx="661.5" cy="15.5" r="5"/><circle class="r" cx="691.5" cy="15.5" r="5"/>
<circle class="g" cx="751.5" cy=".5" r="5"/><circle class="g" cx="796.5" cy=".5" r="5"/><circle class="g" cx="841.5" cy=".5" r="5"/><circle class="g" cx="871.5" cy=".5" r="5"/><circle class="g" cx="916.5" cy=".5" r="5"/><circle class="g" cx="931.5" cy=".5" r="5"/><circle class="g" cx="961.5" cy=".5" r="5"/>
<rect class="od" x="31.5" y=".5" width="960" height="60"/>
<text class="s1" x="270" y="77">261</text><text class="s2" x="270" y="90">75294</text><text class="s3" x="270" y="103">37.48%</text>
<text class="s1" x="510" y="77">288</text><text class="s2" x="510" y="90">78690</text><text class="s3" x="510" y="103">24.98%</text>
<text class="s1" x="750" y="77">225</text><text class="s2" x="750" y="90">81190</text><text class="s3" x="750" y="103">12.48%</text>
<text class="s1" x="990" y="77">252</text><text class="s2" x="990" y="90">84414</text><text class="s3" x="990" y="103">0.00%</text>
</g>

<g id="row18" transform="translate(0,2836)">
<use xlink:href="#grid4"/>
<text class="mn" x="32" y="-6">69</text><text class="mn" x="272" y="-6">70</text><text class="mn" x="512" y="-6">71</text><text class="mn" x="752" y="-6">72</text>
<rect class="bar g" x="91.5" y="-3" width="45" height="7"/>
<rect class="bar y" x="571.5" y="27" width="45" height="7"/>
<circle class="g" cx="31.5" cy=".5" r="5"/><circle class="g" cx="61.5" cy=".5" r="5"/><circle class="g" cx="91.5" cy=".5" r="5"/>
<circle class="r" cx="151.5" cy="15.5" r="5"/><circle class="r" cx="181.5" cy="15.5" r="5"/><circle class="r" cx="211.5" cy="15.5" r="5"/>
<circle class="y" cx="256.5" cy="30.5" r="5"/><circle class="y" cx="271.5" cy="30.5" r="5"/><circle class="y" cx="301.5" cy="30.5" r="5"/><circle class="y" cx="331.5" cy="30.5" r="5"/><circle class="y" cx="361.5" cy="30.5" r="5"/><circle class="y" cx="391.5" cy="30.5" r="5"/><circle class="y" cx="436.5" cy="30.5" r="5"/>
<use xlink:href="#star" class="y" x="511.5" y="30.5"/><use xlink:href="#star" class="y" x="541.5" y="30.5"/><use xlink:href="#star" class="y" x="571.5" y="30.5"/>
<use xlink:href="#star" class="r" x="631.5" y="15.5"/><use xlink:href="#star" class="r" x="661.5" y="15.5"/><use xlink:href="#star" class="r" x="691.5" y="15.5"/>
<circle class="g" cx="751.5" cy=".5" r="5"/><circle class="g" cx="781.5" cy=".5" r="5"/><circle class="g" cx="811.5" cy=".5" r="5"/><circle class="g" cx="841.5" cy=".5" r="5"/><circle class="g" cx="871.5" cy=".5" r="5"/><circle class="g" cx="916.5" cy=".5" r="5"/><circle class="g" cx="931.5" cy=".5" r="5"/><circle class="g" cx="961.5" cy=".5" r="5"/>
<rect class="sp" x="511.5" y=".5" width="225" height="60"/>
<rect class="od" x="751.5" y=".5" width="240" height="60"/>
<use xlink:href="#star" class="g" x="736.5" y=".5"/>
<text class="s1" x="270" y="77">261</text><text class="s2" x="270" y="90">86196</text><text class="s3" x="270" y="103">0.00%</text>
<text class="s1" x="510" y="77">216</text><text class="s2" x="510" y="90">87492</text><text class="s3" x="510" y="103">0.00%</text>
<text class="s1" x="750" y="77">261</text><text class="s2" x="750" y="90">89058</text><text class="s3" x="750" y="103">24.98%</text>
<text class="s1" x="990" y="77">288</text><text class="s2" x="990" y="90">92514</text><text class="s3" x="990" y="103">12.48%</text>
</g>

<g id="row19" transform="translate(0,2990)">
<use xlink:href="#grid4"/>
<text class="mn" x="32" y="-6">73</text><text class="mn" x="272" y="-6">74</text><text class="mn" x="512" y="-6">75</text><text class="mn" x="752" y="-6">76</text>
<rect class="bar g" x="91.5" y="-3" width="45" height="7"/>
<rect class="bar y" x="571.5" y="27" width="45" height="7"/>
<circle class="g" cx="31.5" cy=".5" r="5"/><circle class="g" cx="61.5" cy=".5" r="5"/><circle class="g" cx="91.5" cy=".5" r="5"/>
<circle class="r" cx="151.5" cy="15.5" r="5"/><circle class="r" cx="181.5" cy="15.5" r="5"/><circle class="r" cx="211.5" cy="15.5" r="5"/>
<circle class="y" cx="256.5" cy="30.5" r="5"/><circle class="y" cx="271.5" cy="30.5" r="5"/><circle class="y" cx="301.5" cy="30.5" r="5"/><circle class="y" cx="331.5" cy="30.5" r="5"/><circle class="y" cx="361.5" cy="30.5" r="5"/><circle class="y" cx="391.5" cy="30.5" r="5"/><circle class="y" cx="436.5" cy="30.5" r="5"/><circle class="y" cx="451.5" cy="30.5" r="5"/><circle class="y" cx="481.5" cy="30.5" r="5"/><circle class="y" cx="511.5" cy="30.5" r="5"/><circle class="y" cx="541.5" cy="30.5" r="5"/><circle class="y" cx="571.5" cy="30.5" r="5"/>
<circle class="r" cx="631.5" cy="15.5" r="5"/><circle class="r" cx="661.5" cy="15.5" r="5"/><circle class="r" cx="691.5" cy="15.5" r="5"/>
<circle class="g" cx="751.5" cy=".5" r="5"/><circle class="g" cx="796.5" cy=".5" r="5"/><circle class="g" cx="841.5" cy=".5" r="5"/><circle class="g" cx="871.5" cy=".5" r="5"/><circle class="g" cx="916.5" cy=".5" r="5"/><circle class="g" cx="931.5" cy=".5" r="5"/><circle class="g" cx="961.5" cy=".5" r="5"/>
<rect class="od" x="31.5" y=".5" width="240" height="60"/>
<text class="s1" x="270" y="77">261</text><text class="s2" x="270" y="90">95646</text><text class="s3" x="270" y="103">0.00%</text>
<text class="s1" x="510" y="77">288</text><text class="s2" x="510" y="90">97590</text><text class="s3" x="510" y="103">0.00%</text>
<text class="s1" x="750" y="77">225</text><text class="s2" x="750" y="90">98940</text><text class="s3" x="750" y="103">0.00%</text>
<text class="s1" x="990" y="77">252</text><text class="s2" x="990" y="90">100452</text><text class="s3" x="990" y="103">0.00%</text>
</g>

<g id="row20" transform="translate(0,3144)">
<use xlink:href="#grid4"/>
<text class="mn" x="32" y="-6">77</text><text class="mn" x="272" y="-6">78</text><text class="mn" x="512" y="-6">79</text><text class="mn" x="752" y="-6">80</text>
<rect class="bar g" x="91.5" y="-3" width="45" height="7"/>
<rect class="bar y" x="511.5" y="27" width="105" height="7"/>
<rect class="bar r" x="631.5" y="12" width="105" height="7"/>
<rect class="bar g" x="751.5" y="-3" width="240" height="7"/>
<circle class="g" cx="31.5" cy=".5" r="5"/><circle class="g" cx="61.5" cy=".5" r="5"/><circle class="g" cx="91.5" cy=".5" r="5"/>
<circle class="r" cx="151.5" cy="15.5" r="5"/><circle class="r" cx="181.5" cy="15.5" r="5"/><circle class="r" cx="211.5" cy="15.5" r="5"/>
<circle class="y" cx="256.5" cy="30.5" r="5"/><circle class="y" cx="271.5" cy="30.5" r="5"/><circle class="y" cx="301.5" cy="30.5" r="5"/><circle class="y" cx="331.5" cy="30.5" r="5"/><circle class="y" cx="361.5" cy="30.5" r="5"/>
<circle class="y" cx="511.5" cy="30.5" r="5"/><circle class="r" cx="631.5" cy="15.5" r="5"/><circle class="g" cx="751.5" cy=".5" r="5"/>
<text class="s1" x="270" y="77">261</text><text class="s2" x="270" y="90">102018</text><text class="s3" x="270" y="103">0.00%</text>
<text class="s1" x="510" y="77">144</text><text class="s2" x="510" y="90">102882</text><text class="s3" x="510" y="103">0.00%</text>
<text class="s1" x="750" y="77">114</text><text class="s2" x="750" y="90">103566</text><text class="s3" x="750" y="103">0.00%</text>
<text class="s1" x="990" y="77">84</text><text class="s2" x="990" y="90">104070</text><text class="s3" x="990" y="103">0.00%</text>
</g>

<g id="row21" transform="translate(0,3298)">
<use xlink:href="#grid3"/>
<text class="mn" x="32" y="-6">81</text><text class="mn" x="272" y="-6">82</text><text class="mn" x="512" y="-6">83</text>
<rect class="bar g" x="31.5" y="-3" width="105" height="7"/>
<rect class="bar r" x="151.5" y="12" width="105" height="7"/>
<rect class="bar y" x="271.5" y="27" width="225" height="7"/>
<circle class="r" cx="151.5" cy="15.5" r="5"/><circle class="y" cx="271.5" cy="30.5" r="5"/>
<text class="s1" x="270" y="77">78</text><text class="s2" x="270" y="90">104538</text><text class="s3" x="270" y="103">0.00%</text>
<text class="s1" x="510" y="77">84</text><text class="s2" x="510" y="90">105042</text><text class="s3" x="510" y="103">0.00%</text>
<text class="s1" x="750" y="77">0</text><text class="s2" x="750" y="90">105042</text><text class="s3" x="750" y="103">0.00%</text>
</g>
</svg>
